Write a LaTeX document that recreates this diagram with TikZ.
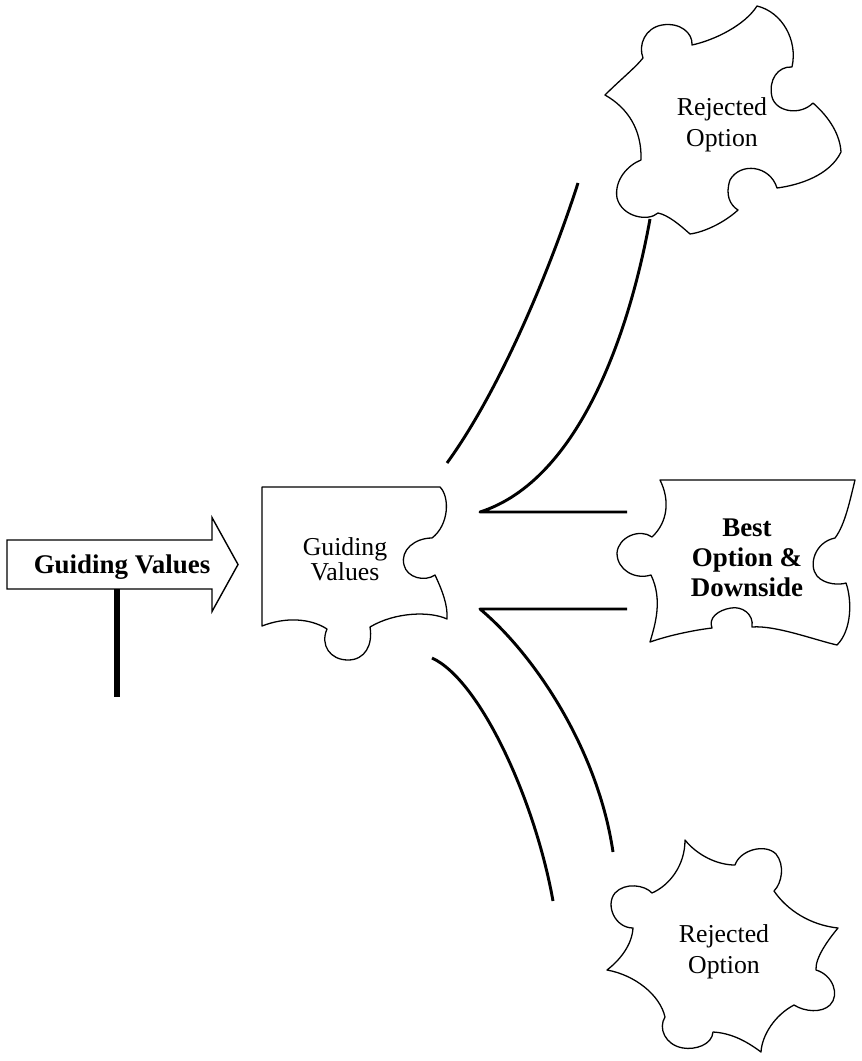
\documentclass[tikz,border=0pt]{standalone}
\usepackage{fontspec}
\setmainfont{Liberation Serif}
\begin{document}
\begin{tikzpicture}[x=0.03cm,y=-0.03cm,
  piece/.style={draw=black,line width=1.1pt,line join=round},
  conn/.style={draw=black,line width=2.5pt,line join=round},
  lbl/.style={font=\fontsize{22}{26}\selectfont,align=center,inner sep=0pt},
  blbl/.style={font=\fontsize{23}{25.5}\selectfont\bfseries,align=center,inner sep=0pt}]
\useasboundingbox (0,0) rectangle (861,1061);

% signpost arrow
\draw[line width=1.2pt,line join=miter] (7,540) -- (212,540) -- (212,517.5) -- (238,564.5) -- (212,611.5) -- (212,589) -- (7,589) -- cycle;
\node[blbl] (sign) at (122,567) {Guiding Values};
\coordinate (poletop) at (117,589);
\coordinate (polebot) at (117,697);
\draw[line width=4.5pt] (poletop) -- (polebot);

% Guiding Values piece
\draw[piece] (262,487) -- (440,487)
 .. controls (450,497) and (449,525) .. (432,538)
 .. controls (415,538) and (400,550) .. (404,565)
 .. controls (407,578) and (425,582) .. (435,575)
 .. controls (442,590) and (448,605) .. (447,619)
 .. controls (430,611) and (395,612) .. (370,627)
 .. controls (373,645) and (365,660) .. (348,660)
 .. controls (330,660) and (320,645) .. (327,629)
 .. controls (310,618) and (285,617) .. (262,626)
 -- cycle;
\node[font=\fontsize{22}{21}\selectfont,align=center,inner sep=0pt] (gv) at (345,559.5) {Guiding\\Values};

% Best option piece
\draw[piece] (660,480) -- (855,480)
 .. controls (850,500) and (845,525) .. (835,538)
 .. controls (815,542) and (808,565) .. (817,576)
 .. controls (825,585) and (840,585) .. (846,583)
 .. controls (852,600) and (852,630) .. (837,645)
 .. controls (815,640) and (775,625) .. (752,627)
 .. controls (754,614) and (742,606) .. (731,608)
 .. controls (718,610) and (708,618) .. (712,628)
 .. controls (695,630) and (670,635) .. (650,642)
 .. controls (655,625) and (663,600) .. (651,575)
 .. controls (635,580) and (617,570) .. (617,553)
 .. controls (618,537) and (640,528) .. (652,537)
 .. controls (668,522) and (670,500) .. (660,480)
 -- cycle;
\node[blbl] (best) at (747,557.5) {Best\\Option \&\\Downside};

% top rejected piece
\draw[piece] (757,6)
 .. controls (782,12) and (798,40) .. (792,67)
 .. controls (778,66) and (768,80) .. (772,97)
 .. controls (776,112) and (800,116) .. (813,103)
 .. controls (830,118) and (840,135) .. (841,152)
 .. controls (830,175) and (800,185) .. (777,188)
 .. controls (770,165) and (740,162) .. (730,180)
 .. controls (725,195) and (730,205) .. (738,210)
 .. controls (725,222) and (705,232) .. (690,234)
 .. controls (680,225) and (668,215) .. (658,213)
 .. controls (648,222) and (622,217) .. (617,198)
 .. controls (614,180) and (628,165) .. (641,160)
 .. controls (642,130) and (628,108) .. (605,95)
 .. controls (620,80) and (635,68) .. (643,58)
 .. controls (638,45) and (645,28) .. (662,25)
 .. controls (680,22) and (693,33) .. (692,45)
 .. controls (715,40) and (745,25) .. (757,6)
 -- cycle;
\node[lbl] (rej1) at (722,125) {Rejected\\Option};

% bottom rejected piece
\draw[piece] (685,840)
 .. controls (697,855) and (717,865) .. (735,865)
 .. controls (740,850) and (765,843) .. (776,854)
 .. controls (785,865) and (782,883) .. (774,891)
 .. controls (787,910) and (810,925) .. (838,928)
 .. controls (828,940) and (815,958) .. (816,970)
 .. controls (833,975) and (840,995) .. (830,1005)
 .. controls (822,1013) and (805,1012) .. (794,1005)
 .. controls (775,1015) and (762,1035) .. (761,1052)
 .. controls (745,1040) and (730,1033) .. (713,1032)
 .. controls (712,1045) and (695,1050) .. (683,1048)
 .. controls (665,1045) and (658,1028) .. (665,1017)
 .. controls (660,995) and (635,975) .. (607,970)
 .. controls (620,960) and (632,945) .. (633,928)
 .. controls (615,928) and (605,905) .. (615,893)
 .. controls (625,882) and (645,885) .. (652,893)
 .. controls (670,885) and (685,865) .. (685,840)
 -- cycle;
\node[lbl] (rej2) at (724,952) {Rejected\\Option};

% connectors
\coordinate (c1s) at (447,463);
\coordinate (c1e) at (578,183);
\coordinate (c2s) at (480,512);
\coordinate (c2e) at (650,219);
\coordinate (h1e) at (627,512);
\coordinate (h2s) at (480,609);
\coordinate (h2e) at (627,609);
\coordinate (c3e) at (613,852);
\coordinate (c4s) at (432,658);
\coordinate (c4e) at (553,901);

\draw[conn] (c1s) .. controls (500,390) and (550,270) .. (c1e);
\draw[conn] (c2e) .. controls (630,330) and (580,480) .. (c2s) -- (h1e);
\draw[conn] (h2e) -- (h2s) .. controls (535,655) and (598,750) .. (c3e);
\draw[conn] (c4s) .. controls (480,680) and (535,800) .. (c4e);
\end{tikzpicture}
\end{document}
